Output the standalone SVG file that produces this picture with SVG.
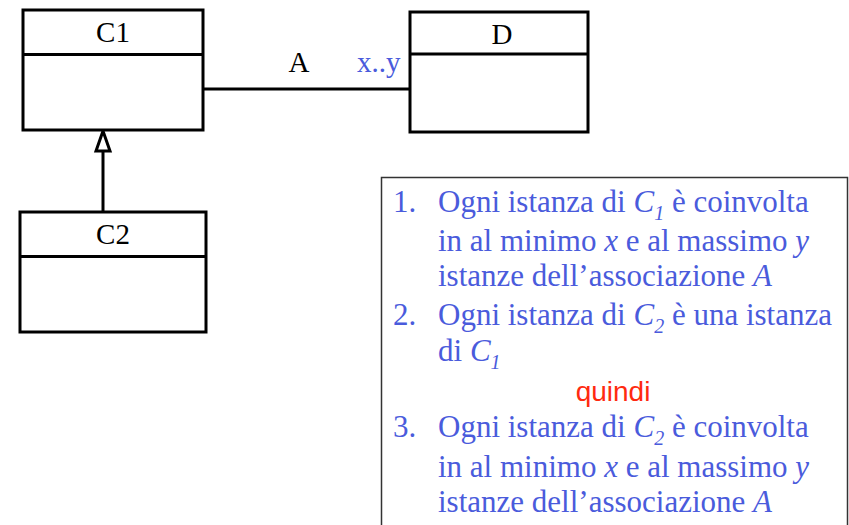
<svg xmlns="http://www.w3.org/2000/svg" width="849" height="525" viewBox="0 0 849 525">
<style>
.box{fill:#fff;stroke:#000;stroke-width:3}
.div{stroke:#000;stroke-width:3}
.lbl{font-family:"Liberation Serif","Times New Roman",serif;font-size:29px;fill:#000;text-anchor:middle}
.conn{stroke:#000;stroke-width:3;fill:none}
.t{font-family:"Liberation Serif","Times New Roman",serif;font-size:31px;fill:#4a5bdc}
.i{font-style:italic}
.sub{font-style:italic;font-size:20px}
</style>
<rect width="849" height="525" fill="#fff"/>
<g id="connectors">
<line class="conn" x1="203" y1="89" x2="410" y2="89"/>
<line class="conn" x1="103" y1="151" x2="103" y2="212"/>
<polygon points="103,131 96,151 110,151" fill="#fff" stroke="#000" stroke-width="3" stroke-linejoin="miter"/>
<text class="lbl" x="299" y="72">A</text>
<text x="357" y="72" font-family="Liberation Serif, Times New Roman, serif" font-size="29" fill="#4a5bdc">x..y</text>
</g>
<g id="C1">
<rect class="box" x="23" y="10" width="180" height="120"/>
<line class="div" x1="23" y1="54.5" x2="203" y2="54.5"/>
<text class="lbl" x="113" y="42">C1</text>
</g>
<g id="D">
<rect class="box" x="410" y="12" width="178" height="120"/>
<line class="div" x1="410" y1="54" x2="588" y2="54"/>
<text class="lbl" x="502" y="44">D</text>
</g>
<g id="C2">
<rect class="box" x="20" y="212" width="186" height="120"/>
<line class="div" x1="20" y1="256.5" x2="206" y2="256.5"/>
<text class="lbl" x="113" y="244">C2</text>
</g>
<g id="notes">
<rect x="381.5" y="177.5" width="466" height="360" fill="#fff" stroke="#333" stroke-width="1.5"/>
<text class="t" x="393" y="212">1.</text>
<text class="t" x="438" y="212">Ogni istanza di <tspan class="i">C</tspan><tspan class="sub" dy="8">1</tspan><tspan dy="-8"> è coinvolta</tspan></text>
<text class="t" x="438" y="251">in al minimo <tspan class="i">x</tspan> e al massimo <tspan class="i">y</tspan></text>
<text class="t" x="438" y="286">istanze dell’associazione <tspan class="i">A</tspan></text>
<text class="t" x="393" y="325">2.</text>
<text class="t" x="438" y="325">Ogni istanza di <tspan class="i">C</tspan><tspan class="sub" dy="8">2</tspan><tspan dy="-8"> è una istanza</tspan></text>
<text class="t" x="438" y="361">di <tspan class="i">C</tspan><tspan class="sub" dy="8">1</tspan></text>
<text x="613" y="401" font-family="Liberation Sans, Arial, sans-serif" font-size="28" fill="#ff2a10" text-anchor="middle">quindi</text>
<text class="t" x="393" y="437">3.</text>
<text class="t" x="438" y="437">Ogni istanza di <tspan class="i">C</tspan><tspan class="sub" dy="8">2</tspan><tspan dy="-8"> è coinvolta</tspan></text>
<text class="t" x="438" y="477">in al minimo <tspan class="i">x</tspan> e al massimo <tspan class="i">y</tspan></text>
<text class="t" x="438" y="512">istanze dell’associazione <tspan class="i">A</tspan></text>
</g>
</svg>
